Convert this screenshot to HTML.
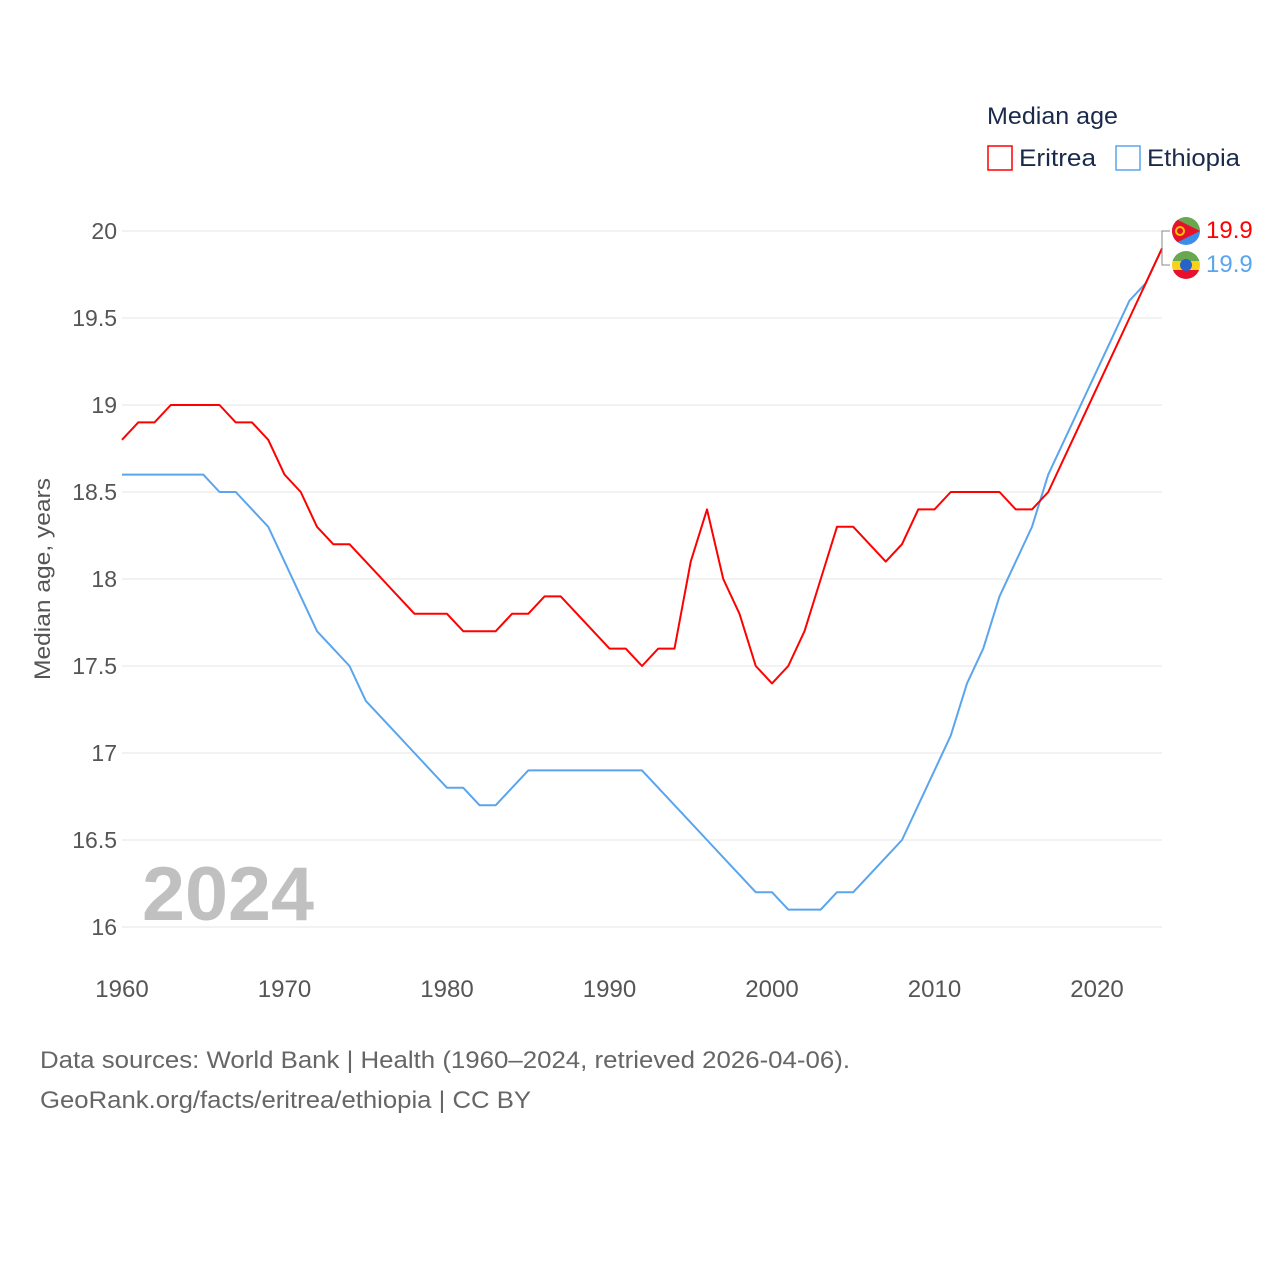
<!DOCTYPE html>
<html><head><meta charset="utf-8"><style>
body{margin:0;background:#fff;font-family:"Liberation Sans",sans-serif}
svg text{font-family:"Liberation Sans",sans-serif}
</style></head><body>
<svg id="c" width="1280" height="1280" xmlns="http://www.w3.org/2000/svg">
<defs>
<clipPath id="f1"><circle cx="1186" cy="231" r="14"/></clipPath>
<clipPath id="f2"><circle cx="1186" cy="265" r="14"/></clipPath>
</defs>
<g id="grid"></g>
<g id="yt"></g>
<g id="xt"></g>
<text x="50" y="579" transform="rotate(-90 50 579)" text-anchor="middle" font-size="22" fill="#555" textLength="202" lengthAdjust="spacingAndGlyphs">Median age, years</text>
<text x="142" y="920" font-size="76" font-weight="bold" fill="#c0c0c0" textLength="172" lengthAdjust="spacingAndGlyphs">2024</text>
<g id="lines"></g>
<text x="987" y="124" font-size="24" fill="#1a2a4a" textLength="131" lengthAdjust="spacingAndGlyphs">Median age</text>
<g><rect x="988" y="146" width="24" height="24" fill="none" stroke="#ff0000" stroke-width="1.5"/><text x="1019" y="166" font-size="24" fill="#1a2a4a" textLength="77" lengthAdjust="spacingAndGlyphs">Eritrea</text></g>
<g><rect x="1116" y="146" width="24" height="24" fill="none" stroke="#5aa5ee" stroke-width="1.5"/><text x="1147" y="166" font-size="24" fill="#1a2a4a" textLength="93" lengthAdjust="spacingAndGlyphs">Ethiopia</text></g>
<g clip-path="url(#f1)"><rect x="1172" y="217" width="28" height="14" fill="#6aa84f"/><rect x="1172" y="231" width="28" height="14" fill="#3a8ee6"/><polygon points="1172,217 1200,231 1172,245" fill="#e8112d"/><circle cx="1180" cy="231" r="4" fill="none" stroke="#f7c500" stroke-width="2"/></g>
<g clip-path="url(#f2)"><rect x="1172" y="251" width="28" height="10" fill="#6aa84f"/><rect x="1172" y="261" width="28" height="9" fill="#f7d21b"/><rect x="1172" y="270" width="28" height="10" fill="#e8112d"/><circle cx="1186" cy="265" r="6" fill="#2563c9"/></g>
<path d="M1162,245 V231 H1170 M1162,245 V265 H1170" fill="none" stroke="#888" stroke-width="1"/>
<text x="1206" y="238" font-size="24" fill="#ff0000">19.9</text>
<text x="1206" y="272" font-size="24" fill="#5aa5ee">19.9</text>
<text x="40" y="1068" font-size="24" fill="#666" textLength="810" lengthAdjust="spacingAndGlyphs">Data sources: World Bank | Health (1960–2024, retrieved 2026-04-06).</text>
<text x="40" y="1108" font-size="24" fill="#666" textLength="491" lengthAdjust="spacingAndGlyphs">GeoRank.org/facts/eritrea/ethiopia | CC BY</text>
</svg>
<script>
const years=[];for(let y=1960;y<=2024;y++)years.push(y);
const eritrea=[18.8,18.9,18.9,19.0,19.0,19.0,19.0,18.9,18.9,18.8,18.6,18.5,18.3,18.2,18.2,18.1,18.0,17.9,17.8,17.8,17.8,17.7,17.7,17.7,17.8,17.8,17.9,17.9,17.8,17.7,17.6,17.6,17.5,17.6,17.6,18.1,18.4,18.0,17.8,17.5,17.4,17.5,17.7,18.0,18.3,18.3,18.2,18.1,18.2,18.4,18.4,18.5,18.5,18.5,18.5,18.4,18.4,18.5,18.7,18.9,19.1,19.3,19.5,19.7,19.9];
const ethiopia=[18.6,18.6,18.6,18.6,18.6,18.6,18.5,18.5,18.4,18.3,18.1,17.9,17.7,17.6,17.5,17.3,17.2,17.1,17.0,16.9,16.8,16.8,16.7,16.7,16.8,16.9,16.9,16.9,16.9,16.9,16.9,16.9,16.9,16.8,16.7,16.6,16.5,16.4,16.3,16.2,16.2,16.1,16.1,16.1,16.2,16.2,16.3,16.4,16.5,16.7,16.9,17.1,17.4,17.6,17.9,18.1,18.3,18.6,18.8,19.0,19.2,19.4,19.6,19.7,19.9];
const yTicks=[16,16.5,17,17.5,18,18.5,19,19.5,20];
const xTicks=[1960,1970,1980,1990,2000,2010,2020];
const X=y=>122+(y-1960)*16.25, Y=v=>927-(v-16)*174;
const NS="http://www.w3.org/2000/svg";
function mk(t,a,p){const e=document.createElementNS(NS,t);for(const k in a)e.setAttribute(k,a[k]);p.appendChild(e);return e;}
const grid=document.getElementById('grid'),yt=document.getElementById('yt'),xt=document.getElementById('xt'),lines=document.getElementById('lines');
yTicks.forEach(v=>{
 const l=mk('line',{x1:122,x2:1162,y1:Y(v),y2:Y(v),stroke:'#e6e6e6','stroke-width':1},grid);
 
 
 const t=mk('text',{x:117,y:Y(v)+8,'text-anchor':'end','font-size':23,fill:'#555'},yt);t.textContent=v;
 
 
});
xTicks.forEach(v=>{
 const t=mk('text',{x:X(v),y:997,'text-anchor':'middle','font-size':24,fill:'#555'},xt);t.textContent=v;
 
 
});
function line(d,c,n){
 const p=mk('polyline',{points:d.map((v,i)=>X(years[i])+','+Y(v)).join(' '),fill:'none',stroke:c,'stroke-width':2,'stroke-linejoin':'round'},lines);
 
 
}
line(ethiopia,'#5aa5ee','ethiopia-line');
line(eritrea,'#ff0000','eritrea-line');
</script>
</body></html>
